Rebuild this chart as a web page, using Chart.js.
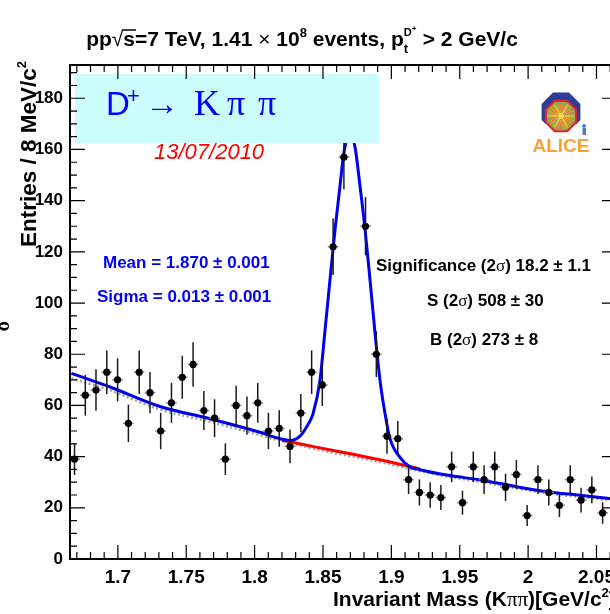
<!DOCTYPE html>
<html><head><meta charset="utf-8">
<script src="https://cdn.jsdelivr.net/npm/chart.js@4.4.1/dist/chart.umd.min.js"></script>
<style>html,body{margin:0;padding:0;background:#fff;overflow:hidden;width:610px;height:614px}canvas{display:block}</style>
</head><body><canvas id="c" width="630" height="614"></canvas>
<script>
// ---- data ----
const binCenters = [1.6683,1.6762,1.6840,1.6919,1.6998,1.7077,1.7156,1.7235,1.7313,1.7392,1.7471,1.7550,1.7629,1.7707,1.7786,1.7865,1.7944,1.8023,1.8101,1.8180,1.8259,1.8338,1.8417,1.8495,1.8574,1.8653,1.8732,1.8811,1.8890,1.8968,1.9047,1.9126,1.9205,1.9284,1.9362,1.9441,1.9520,1.9599,1.9678,1.9756,1.9835,1.9914,1.9993,2.0072,2.0151,2.0229,2.0308,2.0387,2.0466,2.0545];
const counts = [39,64,66,73,70,53,73,65,50,61,71,76,58,55,39,60,56,61,50,51,44,57,73,68,122,157,176,130,80,48,47,31,26,25,24,36,22,36,31,36,28,33,17,31,26,21,31,23,27,18];
const countErrors = [6.2,8.0,8.1,8.5,8.4,7.3,8.5,8.1,7.1,7.8,8.4,8.7,7.6,7.4,6.2,7.7,7.5,7.8,7.1,7.1,6.6,7.5,8.5,8.2,11.0,12.5,13.3,11.4,8.9,6.9,6.9,5.6,5.1,5.0,4.9,6.0,4.7,6.0,5.6,6.0,5.3,5.7,4.1,5.6,5.1,4.6,5.6,4.8,5.2,4.2];
const binHalfWidth = 0.0039;

// total fit (signal + background), blue
const fitMass = [1.6660,1.6943,1.7308,1.7674,1.8039,1.8186,1.8259,1.8332,1.8390,1.8427,1.8478,1.8515,1.8551,1.8588,1.8624,1.8654,1.8697,1.8734,1.8771,1.8808,1.8844,1.8881,1.8917,1.8954,1.8990,1.9063,1.9136,1.9209,1.9405,1.9648,1.9890,2.0136,2.0379,2.0650];
const fitValues = [72.5,67.2,59.6,54.8,49.5,47.0,46.3,48.0,52.5,56.7,69.8,89.4,109,128.6,145.6,159,166,161,145.6,128.6,109,88,69.8,56.7,47,39.7,36.0,34.9,32.8,30.9,28.5,26.3,24.9,23.3];
// background under the peak, red
const bkgMass = [1.8200,1.8450,1.8700,1.8950,1.9210];
const bkgValues = [46.4,43.7,41.1,38.4,35.2];
// side-band background, grey dotted
const sideMass = [1.6660,1.6943,1.7308,1.7674,1.8039,1.8259,1.8450,1.8700,1.8950,1.9209,1.9405,1.9648,1.9890,2.0136,2.0379,2.0650];
const sideValues = [70.6,65.9,58.4,53.6,48.4,45.2,42.9,40.2,37.5,34.3,32.2,30.2,27.8,25.7,24.2,22.6];

const xTicks = [1.7,1.75,1.8,1.85,1.9,1.95,2.0,2.05];
const xTickLabels = ['1.7','1.75','1.8','1.85','1.9','1.95','2','2.05'];
const yTicks = [0,20,40,60,80,100,120,140,160,180];
const yTickLabels = ['0','20','40','60','80','100','120','140','160','180'];

const SANS = '"Liberation Sans", Arial, Helvetica, sans-serif';
const SERIF = '"Liberation Serif", "Times New Roman", serif';

function pts(xs, ys){ return xs.map((x,i)=>({x:x, y:ys[i]})); }

function runText(ctx, runs, x, y){
  for (const r of runs){
    ctx.font = r[1];
    ctx.fillText(r[0], x, y + (r[2]||0));
    x += ctx.measureText(r[0]).width;
  }
  return x;
}
function runWidth(ctx, runs){
  let w = 0;
  for (const r of runs){ ctx.font = r[1]; w += ctx.measureText(r[0]).width; }
  return w;
}
function octagon(ctx, cx, cy, r){
  ctx.beginPath();
  for (let k=0;k<8;k++){
    const a = Math.PI/8 + k*Math.PI/4;
    const px = cx + r*Math.cos(a), py = cy + r*Math.sin(a);
    if (k) ctx.lineTo(px,py); else ctx.moveTo(px,py);
  }
  ctx.closePath();
}

const decor = {
  id: 'decor',
  beforeDatasetDraw(chart, args){
    if (args.index !== 0) return;
    const {ctx, scales:{x, y}, chartArea:a} = chart;
    ctx.save();
    ctx.beginPath(); ctx.rect(a.left, a.top, a.right-a.left, a.bottom-a.top); ctx.clip();
    for (let i=0;i<binCenters.length;i++){
      const px = x.getPixelForValue(binCenters[i]);
      const py = y.getPixelForValue(counts[i]);
      ctx.strokeStyle = '#8a8a8a'; ctx.lineWidth = 1.5;
      ctx.beginPath();
      ctx.moveTo(x.getPixelForValue(binCenters[i]-binHalfWidth), py);
      ctx.lineTo(x.getPixelForValue(binCenters[i]+binHalfWidth), py);
      ctx.stroke();
      ctx.strokeStyle = '#1a1a1a'; ctx.lineWidth = 1.5;
      ctx.beginPath();
      ctx.moveTo(px, y.getPixelForValue(counts[i]-countErrors[i]));
      ctx.lineTo(px, y.getPixelForValue(counts[i]+countErrors[i]));
      ctx.stroke();
    }
    ctx.restore();
  },
  afterDatasetsDraw(chart){
    const {ctx, scales:{x, y}, chartArea:a} = chart;
    ctx.save();
    // cyan label box
    ctx.fillStyle = '#ccfdfd';
    ctx.fillRect(75, 74, 304, 69);
    ctx.fillStyle = '#0000ff';
    ctx.textBaseline = 'alphabetic'; ctx.textAlign = 'left';
    ctx.font = '33px ' + SANS; ctx.fillText('D', 106, 115);
    ctx.font = '22px ' + SANS; ctx.fillText('+', 127, 103);
    ctx.font = '34px ' + SERIF; ctx.fillText('→', 145, 115);
    ctx.font = '36px ' + SERIF; ctx.fillText('K', 194, 115);
    ctx.font = '36px ' + SERIF; ctx.fillText('π', 227, 115);
    ctx.fillText('π', 258, 115);
    // date
    ctx.fillStyle = '#ff0000';
    ctx.font = 'italic 22px ' + SANS;
    ctx.fillText('13/07/2010', 154, 159);
    // fit results
    const B17 = 'bold 17px ' + SANS;
    const S17 = '17px ' + SERIF;
    ctx.fillStyle = '#0000ff';
    ctx.font = B17;
    ctx.fillText('Mean = 1.870 ± 0.001', 103, 268);
    ctx.fillText('Sigma = 0.013 ± 0.001', 97, 302);
    ctx.fillStyle = '#000';
    runText(ctx, [['Significance (2', B17], ['σ', S17], [') 18.2 ± 1.1', B17]], 376, 271);
    runText(ctx, [['S (2', B17], ['σ', S17], [') 508 ± 30', B17]], 427, 306);
    runText(ctx, [['B (2', B17], ['σ', S17], [') 273 ± 8', B17]], 430, 345);
    // ALICE logo
    ctx.fillStyle = '#2d3c9b';
    octagon(ctx, 561, 112, 21); ctx.fill();
    ctx.fillStyle = '#ffffff';
    ctx.fillRect(545, 124, 32, 14);
    const g = ctx.createRadialGradient(561, 116, 1, 561, 116, 17);
    g.addColorStop(0, '#ffe04a'); g.addColorStop(0.4, '#f39a2e'); g.addColorStop(0.8, '#9aa848'); g.addColorStop(1, '#7a5aa0');
    ctx.fillStyle = g;
    octagon(ctx, 561, 116, 16); ctx.fill();
    ctx.strokeStyle = '#e5202a'; ctx.lineWidth = 2;
    octagon(ctx, 561, 116, 16.5); ctx.stroke();
    ctx.lineWidth = 0.7;
    const rc = ['#f5e23a','#6ab04a','#e2603a','#9a6ad0'];
    for (let k=0;k<24;k++){
      const an = k*Math.PI/12;
      ctx.strokeStyle = rc[k%4];
      ctx.beginPath(); ctx.moveTo(561+3*Math.cos(an), 116+3*Math.sin(an));
      ctx.lineTo(561+14*Math.cos(an), 116+14*Math.sin(an)); ctx.stroke();
    }
    ctx.fillStyle = '#5a7ad0';
    ctx.beginPath(); ctx.arc(584, 126, 2, 0, 2*Math.PI); ctx.fill();
    ctx.fillRect(582.5, 128, 3.5, 7);
    ctx.fillStyle = '#f7a23a';
    ctx.font = 'bold 19px ' + SANS; ctx.textAlign = 'center';
    ctx.fillText('ALICE', 561, 152);
    ctx.textAlign = 'left';

    // frame
    ctx.strokeStyle = '#000'; ctx.lineWidth = 2;
    ctx.strokeRect(a.left, a.top, a.right-a.left, a.bottom-a.top);
    // ticks
    ctx.lineWidth = 1.2;
    ctx.beginPath();
    for (let k=167;k<=206;k++){
      const px = x.getPixelForValue(k/100);
      const L = (k%5===0) ? 14 : 7;
      ctx.moveTo(px, a.bottom); ctx.lineTo(px, a.bottom-L);
      ctx.moveTo(px, a.top); ctx.lineTo(px, a.top+L);
    }
    for (let v=0; v<=190; v+=5){
      const py = y.getPixelForValue(v);
      const L = (v%20===0) ? 15 : 7;
      ctx.moveTo(a.left, py); ctx.lineTo(a.left+L, py);
      ctx.moveTo(a.right, py); ctx.lineTo(a.right-L, py);
    }
    ctx.stroke();
    ctx.restore();
  },
  afterDraw(chart){
    const ctx = chart.ctx;
    ctx.save();
    ctx.fillStyle = '#000'; ctx.textAlign = 'left'; ctx.textBaseline = 'alphabetic';
    // title
    const B = 'bold 21px ' + SANS;
    const N = '21px ' + SANS;
    const part1 = [['pp', B]];
    const part2 = [['=7 TeV, 1.41 ', B], ['×', N], [' 10', B], ['8', 'bold 13px ' + SANS, -9], [' events, p', B]];
    const part3 = [['> 2 GeV/c', B]];
    ctx.font = N; const wRoot = ctx.measureText('√').width;
    ctx.font = B; const wS = ctx.measureText('s').width;
    ctx.font = 'bold 13px ' + SANS; const wSub = Math.max(ctx.measureText('t').width, ctx.measureText('D+').width) + 2;
    const total = runWidth(ctx, part1) + wRoot + wS + runWidth(ctx, part2) + wSub + runWidth(ctx, part3);
    let tx = 302 - total/2; const ty = 46;
    tx = runText(ctx, part1, tx, ty);
    ctx.font = N; ctx.fillText('√', tx, ty); tx += wRoot;
    ctx.font = B; ctx.fillText('s', tx, ty);
    ctx.lineWidth = 1.5; ctx.beginPath(); ctx.moveTo(tx-1, ty-16); ctx.lineTo(tx+wS+1, ty-16); ctx.stroke();
    tx += wS;
    tx = runText(ctx, part2, tx, ty);
    ctx.font = 'bold 13px ' + SANS; ctx.fillText('t', tx, ty+7);
    ctx.font = 'bold 11px ' + SANS; ctx.fillText('D', tx, ty-10);
    ctx.font = 'bold 8px ' + SANS; ctx.fillText('+', tx+8, ty-15);
    tx += wSub;
    runText(ctx, part3, tx, ty);

    // x axis title
    const XB = 'bold 21px ' + SANS;
    runText(ctx, [['Invariant Mass (K', XB], ['ππ', '21px ' + SERIF], [')[GeV/c', XB], ['2', 'bold 13px ' + SANS, -9], [']', XB]], 333, 606);

    // y axis title (rotated)
    const YB = 'bold 22.5px ' + SANS;
    const yRuns = [['Entries / 8 MeV/c', YB], ['2', 'bold 13px ' + SANS, -10]];
    const yw = runWidth(ctx, yRuns);
    ctx.save();
    ctx.translate(36, 0); ctx.rotate(-Math.PI/2);
    runText(ctx, yRuns, -61 - yw, 0);
    ctx.restore();
    // clipped glyph at the far left edge
    ctx.save();
    ctx.translate(9, 326); ctx.rotate(-Math.PI/2);
    ctx.font = 'bold 20px ' + SERIF; ctx.textAlign = 'center';
    ctx.fillText('σ', 0, 0);
    ctx.restore();
    ctx.restore();
  }
};

new Chart(document.getElementById('c'), {
  type: 'scatter',
  data: {
    datasets: [
      { label: 'data', data: pts(binCenters, counts), order: 0, showLine: false,
        pointRadius: 3.6, pointBackgroundColor: '#000', pointBorderWidth: 0, pointStyle: 'circle' },
      { label: 'fit', data: pts(fitMass, fitValues), order: 1, showLine: true, borderColor: '#0000f0',
        borderWidth: 3, pointRadius: 0, cubicInterpolationMode: 'monotone', fill: false },
      { label: 'background', data: pts(bkgMass, bkgValues), order: 2, showLine: true, borderColor: '#ff0000',
        borderWidth: 3, pointRadius: 0, cubicInterpolationMode: 'monotone', fill: false },
      { label: 'sideband', data: pts(sideMass, sideValues), order: 3, showLine: true, borderColor: '#a0a0a0',
        borderWidth: 2.5, borderDash: [2, 2.5], pointRadius: 0, cubicInterpolationMode: 'monotone', fill: false }
    ]
  },
  options: {
    responsive: false, animation: false,
    layout: { padding: { top: 65, right: 13, left: 0, bottom: 0 } },
    plugins: { legend: { display: false }, tooltip: { enabled: false }, title: { display: false } },
    scales: {
      x: {
        type: 'linear', min: 1.665, max: 2.065,
        grid: { display: false, drawTicks: false }, border: { display: false },
        afterBuildTicks: s => { s.ticks = xTicks.map(v => ({ value: v })); },
        afterFit: s => { s.height = 55; },
        ticks: { autoSkip: false, maxRotation: 0, padding: 7, color: '#000',
          font: { family: SANS, size: 19, weight: 'bold' },
          callback: (v, i) => xTickLabels[i] }
      },
      y: {
        type: 'linear', min: 0, max: 193,
        grid: { display: false, drawTicks: false }, border: { display: false },
        afterBuildTicks: s => { s.ticks = yTicks.map(v => ({ value: v })); },
        afterFit: s => { s.width = 70; },
        ticks: { autoSkip: false, padding: 7, color: '#000',
          font: { family: SANS, size: 17, weight: 'bold' },
          callback: (v, i) => yTickLabels[i] }
      }
    }
  },
  plugins: [decor]
});
</script></body></html>
